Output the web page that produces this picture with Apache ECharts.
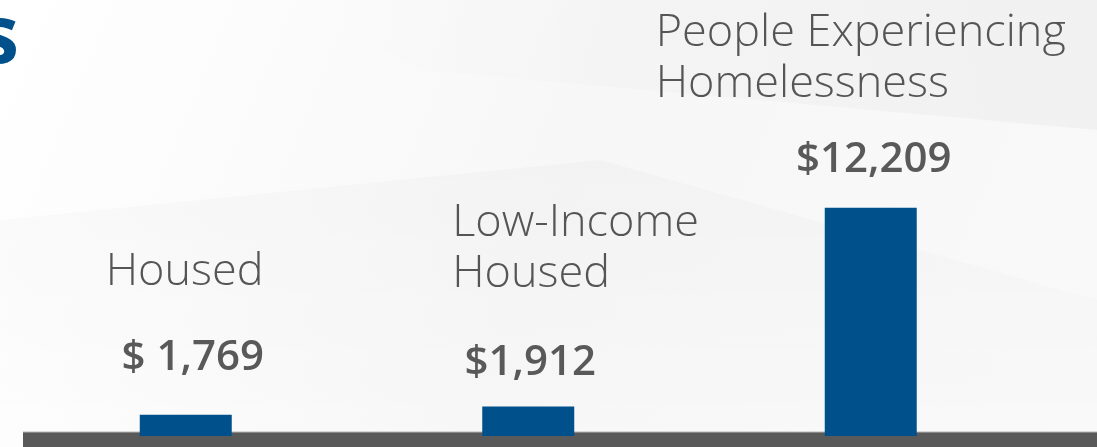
<!DOCTYPE html>
<html>
<head>
<meta charset="utf-8">
<script src="https://cdn.jsdelivr.net/npm/echarts@6/dist/echarts.min.js"></script>
<style>
html, body { margin: 0; padding: 0; background: #fff; }
#main { width: 1097px; height: 447px; }
</style>
</head>
<body>
<div id="main"></div>
<script>
// annual cost per person
var categories = ['Housed', 'Low-Income\nHoused', 'People Experiencing\nHomelessness'];
var costs = [1769, 1912, 12209];
var costText = ['$ 1,769', '$1,912', '$12,209'];

// where the labels sit relative to each bar top, by eye
var costOffset = [[7, -36], [2, -22], [3, -27]];
var nameOffset = [[-80, -117], [-76, -107], [-215, -98]];

var blue = '#00508c';
var grey = '#595959';

var myChart = echarts.init(document.getElementById('main'), null, {renderer: 'canvas'});

var costData = costs.map(function (v, i) {
	return {
		value: v,
		label: {offset: costOffset[i], formatter: costText[i]}
	};
});
var nameData = costs.map(function (v, i) {
	return {
		value: v,
		label: {offset: nameOffset[i], formatter: categories[i]}
	};
});

var option = {
	backgroundColor: {
		type: 'linear', x: 0, y: 0, x2: 1, y2: 1,
		colorStops: [
			{offset: 0, color: '#ffffff'},
			{offset: 0.5, color: '#f7f7f7'},
			{offset: 1, color: '#f9f9f9'}
		]
	},
	animation: false,
	grid: {left: 14.5, right: 55, top: 155, bottom: 11},
	xAxis: {
		type: 'category',
		data: categories,
		show: false
	},
	yAxis: {
		type: 'log',
		min: 1450,
		max: 20000,
		show: false
	},
	graphic: [
		// faint backdrop streaks
		{type: 'polygon', z: -10, shape: {points: [[300, 0], [1097, 0], [1097, 130], [420, 70]]},
			style: {fill: {type: 'linear', x: 0, y: 0, x2: 1, y2: 0, colorStops: [
				{offset: 0, color: 'rgba(0,0,0,0)'}, {offset: 1, color: 'rgba(0,0,0,0.03)'}]}}},
		{type: 'polygon', z: -10, shape: {points: [[0, 220], [600, 160], [1097, 300], [1097, 432], [0, 432]]},
			style: {fill: {type: 'linear', x: 0, y: 0, x2: 0, y2: 1, colorStops: [
				{offset: 0, color: 'rgba(0,0,0,0.02)'}, {offset: 1, color: 'rgba(0,0,0,0)'}]}}},
		// floor
		{type: 'rect', z: 0, shape: {x: 23, y: 432, width: 1074, height: 15}, style: {fill: grey}},
		{type: 'rect', z: 0, shape: {x: 23, y: 431.5, width: 1074, height: 1}, style: {fill: '#b5b5b5'}},
		// tail of the cut-off title
		{type: 'text', z: 5, x: 19, y: 80,
			style: {text: 's', fill: blue, font: 'bold 80px "Open Sans"', textAlign: 'right', textVerticalAlign: 'bottom'}}
	],
	series: [
		{
			type: 'bar',
			data: costData,
			barWidth: 92,
			barGap: '-100%',
			z: 3,
			itemStyle: {color: blue},
			label: {
				show: true,
				position: 'top',
				distance: 0,
				color: grey,
				fontFamily: 'Open Sans',
				fontWeight: 600,
				fontSize: 42,
				lineHeight: 42
			}
		},
		{
			type: 'bar',
			data: nameData,
			barWidth: 92,
			barGap: '-100%',
			silent: true,
			itemStyle: {color: 'rgba(0,0,0,0)'},
			label: {
				show: true,
				position: 'top',
				distance: 0,
				align: 'left',
				color: '#555555',
				fontFamily: 'Open Sans',
				fontWeight: 300,
				fontSize: 45,
				lineHeight: 51
			}
		}
	]
};

myChart.setOption(option);
</script>
</body>
</html>
